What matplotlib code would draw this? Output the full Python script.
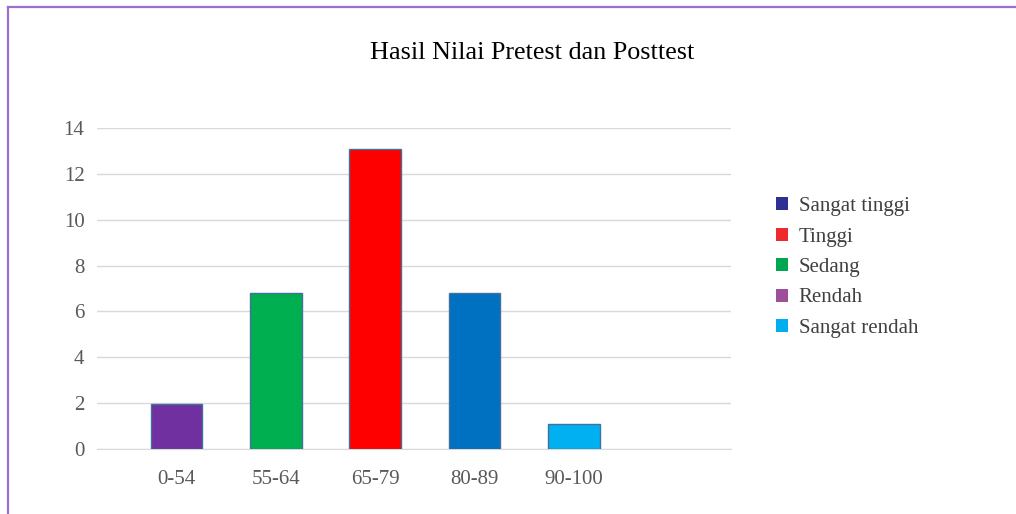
import matplotlib.pyplot as plt
from matplotlib.lines import Line2D
from matplotlib.patches import Patch

plt.rcParams['font.family'] = ['Liberation Serif', 'DejaVu Serif']

categories = ['0-54', '55-64', '65-79', '80-89', '90-100']
values = [1.95, 6.8, 13.1, 6.8, 1.1]
bar_colors = ['#7030A0', '#00B050', '#FF0000', '#0070C0', '#00B0F0']

legend_labels = ['Sangat tinggi', 'Tinggi', 'Sedang', 'Rendah', 'Sangat rendah']
legend_colors = ['#2E3192', '#EE2A2F', '#00A651', '#9E4F9A', '#00AEEF']

fig = plt.figure(figsize=(10.16, 5.14), dpi=100)
ax = fig.add_axes([0.0955, 0.1265, 0.624, 0.6245])

x = list(range(len(categories)))
ax.bar(x, values, width=0.52, color=bar_colors, edgecolor='#41719C',
       linewidth=1.0, zorder=3)

ax.set_xlim(-0.80, 5.58)
ax.set_ylim(0, 14)
ax.set_yticks(range(0, 15, 2))
ax.set_xticks(x)
ax.set_xticklabels(categories)
ax.tick_params(axis='both', length=0, labelsize=15, labelcolor='#595959')
ax.tick_params(axis='y', pad=9)
ax.tick_params(axis='x', pad=15)
ax.grid(axis='y', color='#D9D9D9', linewidth=1.0, zorder=0)
for side in ['top', 'right', 'left']:
    ax.spines[side].set_visible(False)
ax.spines['bottom'].set_color('#D9D9D9')

fig.text(0.524, 0.896, 'Hasil Nilai Pretest dan Posttest', ha='center',
         va='center', fontsize=18.8, color='#000000')

handles = [Patch(facecolor=c, edgecolor='none') for c in legend_colors]
fig.legend(handles, legend_labels, loc='upper left',
           bbox_to_anchor=(0.745, 0.653), frameon=False, fontsize=15,
           handlelength=0.6, handleheight=0.6, handletextpad=0.5,
           labelspacing=0.55, labelcolor='#404040')

# outer frame
fig.add_artist(Line2D([0.008, 0.008], [0, 0.986], color='#9B6FCF',
                      linewidth=1.6, transform=fig.transFigure))
fig.add_artist(Line2D([0.008, 1.0], [0.986, 0.986], color='#9B6FCF',
                      linewidth=1.6, transform=fig.transFigure))

fig.savefig('out.png', dpi=100)
